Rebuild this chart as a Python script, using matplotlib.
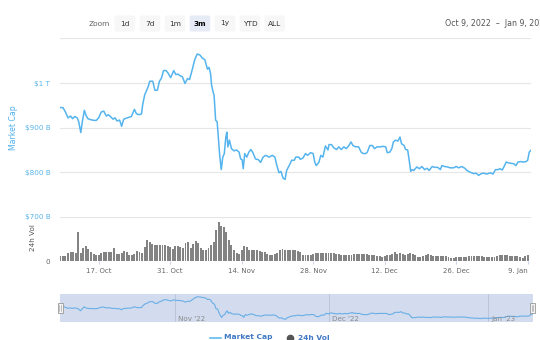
import numpy as np
import matplotlib.pyplot as plt
from matplotlib.patches import FancyBboxPatch, Rectangle
from matplotlib.lines import Line2D

plt.rcParams['font.family'] = ['DejaVu Sans']

# market cap in billions USD, x = days after Oct 9, 2022
cap_days = [0.4, 1.0, 1.5, 2.0, 2.5, 2.9, 3.3, 3.8, 4.1, 4.5, 4.8, 5.2, 5.5, 5.9, 6.7,
            7.5, 8.0, 8.5, 9.0, 9.5, 9.9, 10.3, 10.8, 11.2, 11.6, 12.1, 12.5, 12.9,
            13.6, 14.4, 15.0, 15.4, 15.9, 16.4, 16.6, 17.0, 17.7, 18.0, 18.6, 19.0,
            19.5, 19.9, 20.3, 20.7, 21.2, 21.6, 22.1, 22.4, 22.7, 23.1, 23.5, 24.0,
            24.4, 24.9, 25.4, 25.8, 26.3, 26.8, 27.3, 27.8, 28.3, 28.8, 29.3, 29.6,
            29.9, 30.1, 30.4, 30.6, 30.9, 31.2, 31.4, 31.7, 32.0, 32.3, 32.6, 32.9,
            33.1, 33.3, 33.6, 34.0, 34.5, 35.0, 35.5, 35.8, 36.1, 36.3, 36.6, 37.0,
            37.4, 37.8, 38.2, 38.7, 39.3, 39.7, 40.2, 40.7, 41.4, 42.0, 42.5, 42.9,
            43.3, 43.7, 44.1, 44.5, 44.8, 45.3, 45.8, 46.3, 46.6, 47.2, 47.5, 48.0,
            48.5, 48.9, 49.5, 50.0, 50.3, 50.6, 51.1, 51.5, 51.9, 52.4, 52.9, 53.1,
            53.6, 54.0, 54.6, 55.0, 55.5, 56.0, 56.5, 57.0, 57.4, 57.8, 58.3, 58.9,
            59.4, 59.8, 60.3, 60.6, 61.1, 61.6, 62.0, 62.5, 63.1, 63.7, 64.2, 64.5,
            65.0, 65.4, 65.7, 66.1, 66.6, 67.0, 67.3, 67.8, 68.1, 68.5, 68.8, 69.1,
            69.4, 69.7, 70.3, 70.8, 71.3, 71.8, 72.3, 72.7, 73.3, 73.8, 74.4, 74.9,
            75.2, 75.7, 76.3, 76.8, 77.5, 78.0, 78.5, 79.1, 79.7, 80.1, 80.8, 81.4,
            81.9, 82.4, 82.9, 83.4, 84.0, 84.7, 85.2, 85.7, 86.2, 86.6, 87.0, 87.3,
            87.8, 88.3, 88.8, 89.3, 89.7, 90.1, 90.6, 91.2, 91.7, 92.0, 92.3, 92.6]
cap_vals = [945, 945, 935, 922, 926, 920, 925, 922, 913, 889, 913, 939, 928, 920, 917,
            916, 922, 935, 937, 926, 929, 925, 919, 922, 915, 917, 903, 919,
            922, 925, 941, 931, 929, 931, 950, 973, 992, 1004, 1004, 984,
            984, 1004, 1011, 1028, 1028, 1022, 1012, 1020, 1028, 1019, 1020, 1016,
            1014, 999, 1010, 1008, 1029, 1052, 1065, 1063, 1056, 1052, 1031, 1035,
            1022, 996, 980, 973, 917, 913, 883, 838, 806, 834, 842, 879,
            890, 857, 872, 853, 848, 850, 845, 830, 828, 808, 842, 834,
            845, 851, 844, 830, 828, 822, 834, 838, 834, 838, 834, 815,
            799, 802, 787, 784, 804, 815, 827, 827, 834, 834, 829, 832,
            842, 838, 844, 842, 823, 815, 822, 838, 834, 859, 850, 862,
            862, 855, 851, 857, 851, 857, 853, 860, 868, 860, 857, 857,
            845, 842, 842, 845, 860, 860, 853, 857, 857, 858, 857, 844,
            845, 853, 868, 872, 870, 879, 864, 860, 851, 850, 827, 802,
            806, 804, 812, 808, 813, 806, 809, 804, 813, 811, 811, 806,
            815, 813, 812, 810, 810, 813, 810, 813, 809, 804, 800, 797,
            798, 793, 797, 798, 796, 799, 796, 806, 806, 808, 805, 811,
            823, 821, 820, 819, 815, 823, 824, 823, 824, 827, 845, 849]

# 24h volume in billions USD, one bar every half day
vol_vals = [78, 78, 80, 120, 140, 140, 120, 450, 130, 210, 230, 185, 140, 105, 92, 88,
            128, 140, 140, 145, 140, 200, 114, 114, 130, 150, 135, 100, 88, 114, 150, 140,
            130, 218, 332, 296, 275, 250, 244, 244, 244, 254, 240, 215, 192, 240, 230, 215,
            200, 280, 296, 205, 270, 322, 280, 200, 170, 180, 200, 244, 300, 480, 620, 545,
            540, 450, 330, 250, 180, 130, 114, 170, 233, 218, 170, 166, 166, 166, 160, 145,
            135, 115, 99, 88, 105, 130, 166, 192, 180, 176, 176, 176, 170, 150, 135, 99,
            99, 99, 99, 110, 130, 130, 130, 130, 130, 130, 125, 120, 114, 114, 100, 88,
            88, 88, 100, 109, 104, 104, 104, 104, 104, 99, 99, 99, 85, 73, 62, 80,
            92, 99, 114, 140, 114, 125, 110, 99, 114, 130, 110, 90, 62, 70, 85, 95,
            109, 90, 78, 78, 78, 78, 78, 75, 62, 52, 47, 62, 62, 62, 62, 70,
            78, 78, 78, 78, 78, 75, 62, 57, 57, 57, 65, 73, 88, 88, 88, 88,
            85, 85, 80, 73, 62, 47, 80, 90]
vol_days = np.arange(1, len(vol_vals) + 1) * 0.5

tick_days = [8, 22, 36, 50, 64, 78, 92]
tick_labels = ['17. Oct', '31. Oct', '14. Nov', '28. Nov', '12. Dec', '26. Dec', '9. Jan']
nav_days = [23, 53, 84]
nav_labels = ["Nov '22", "Dec '22", "Jan '23"]
buttons = ['1d', '7d', '1m', '3m', '1y', 'YTD', 'ALL']

W, H = 540, 340
fig = plt.figure(figsize=(5.4, 3.4), dpi=100)


def fx(px):
    return px / W


def fy(py):
    return 1 - py / H


line_col = '#55b4ee'
grid_col = '#e6e6e6'
xmin, xmax = 0.43, 92.65

# main chart
ax = fig.add_axes([fx(60), fy(194.6), fx(471), 156.2 / H])
ax.plot(cap_days, cap_vals, color=line_col, lw=1.1)
ax.set_xlim(xmin, xmax)
ax.set_ylim(750, 1100)
ax.set_yticks([800, 900, 1000, 1100])
ax.set_yticklabels(['$800 B', '$900 B', '$1 T', ''])
ax.grid(axis='y', color=grid_col, lw=0.8)
ax.set_axisbelow(True)
ax.set_xticks([])
ax.tick_params(axis='y', length=0, pad=7, labelsize=5.2, labelcolor='#5ab4ea')
for s in ax.spines.values():
    s.set_visible(False)
fig.text(fx(13), fy(128), 'Market Cap', rotation=90, ha='center', va='center',
         fontsize=5.6, color='#4fb0ec')

# volume pane
av = fig.add_axes([fx(60), fy(261), fx(471), 44.5 / H])
av.bar(vol_days, vol_vals, width=0.38, color='#838383', lw=0)
av.set_xlim(xmin, xmax)
av.set_ylim(0, 700)
av.set_yticks([0, 700])
av.set_yticklabels(['0', '$700 B'])
av.grid(axis='y', color=grid_col, lw=0.8)
av.set_axisbelow(True)
av.tick_params(axis='y', length=0, pad=7, labelsize=5.2)
av.get_yticklabels()[0].set_color('#666666')
av.get_yticklabels()[1].set_color('#5ab4ea')
av.set_xticks(tick_days)
av.set_xticklabels(tick_labels)
av.get_xticklabels()[-1].set_ha('right')
av.tick_params(axis='x', length=2, color='#ccd6eb', pad=2.7, labelsize=5, labelcolor='#666666')
for s in av.spines.values():
    s.set_visible(False)
fig.text(fx(33), fy(238), '24h Vol', rotation=90, ha='center', va='center',
         fontsize=5.2, color='#555555')

# navigator
an = fig.add_axes([fx(60), fy(322), fx(473), 28 / H])
an.set_facecolor('#d2dcee')
for d in nav_days:
    an.axvline(d, color='#bcc6da', lw=0.7)
an.plot(cap_days, cap_vals, color='#6aaee6', lw=0.8)
an.set_xlim(0.5, 92.7)
an.set_ylim(750, 1100)
an.set_xticks([])
an.set_yticks([])
for s in an.spines.values():
    s.set_visible(False)
for d, lab in zip(nav_days, nav_labels):
    an.text(d + 0.5, 790, lab, fontsize=5.1, color='#8a8a8a', ha='left', va='center')

for hx in [60, 532.5]:
    fig.add_artist(Rectangle((fx(hx - 2.5), fy(313)), fx(5), 10 / H, transform=fig.transFigure,
                             facecolor='#f2f2f2', edgecolor='#999999', lw=0.6))
    fig.add_artist(Line2D([fx(hx - 0.6), fx(hx - 0.6)], [fy(311), fy(305)],
                          transform=fig.transFigure, color='#999999', lw=0.4))
    fig.add_artist(Line2D([fx(hx + 0.6), fx(hx + 0.6)], [fy(311), fy(305)],
                          transform=fig.transFigure, color='#999999', lw=0.4))

# range selector
fig.text(fx(99.5), fy(23.5), 'Zoom', fontsize=5.4, color='#666666', ha='center', va='center')
bx = [114.5, 139.7, 164.8, 189.7, 214.8, 239.7, 264.5]
for x0, lab in zip(bx, buttons):
    sel = lab == '3m'
    fig.add_artist(FancyBboxPatch((fx(x0), fy(31.5)), fx(20.5), 16 / H,
                                  boxstyle='round,pad=0,rounding_size=0.004',
                                  transform=fig.transFigure, lw=0,
                                  facecolor='#e6ebf5' if sel else '#f7f7f7'))
    fig.text(fx(x0 + 10.25), fy(23.5), lab, fontsize=5.3, ha='center', va='center',
             color='#000000' if sel else '#333333', weight='bold' if sel else 'normal')
fig.text(fx(444.8), fy(23.5), 'Oct 9, 2022  \u2013  Jan 9, 2023', fontsize=5.7,
         color='#555555', ha='left', va='center')

# legend
fig.add_artist(Line2D([fx(210), fx(221)], [fy(337.5), fy(337.5)], transform=fig.transFigure,
                      color=line_col, lw=1.1))
fig.text(fx(224), fy(337.5), 'Market Cap', fontsize=5.4, color='#3f78c4', weight='bold',
         ha='left', va='center')
fig.add_artist(Line2D([fx(289.7)], [fy(337.5)], transform=fig.transFigure, marker='o',
                      markersize=4.5, color='#555555', lw=0))
fig.text(fx(298), fy(337.5), '24h Vol', fontsize=5.4, color='#3f78c4', weight='bold',
         ha='left', va='center')

fig.savefig('out.png', dpi=100)
